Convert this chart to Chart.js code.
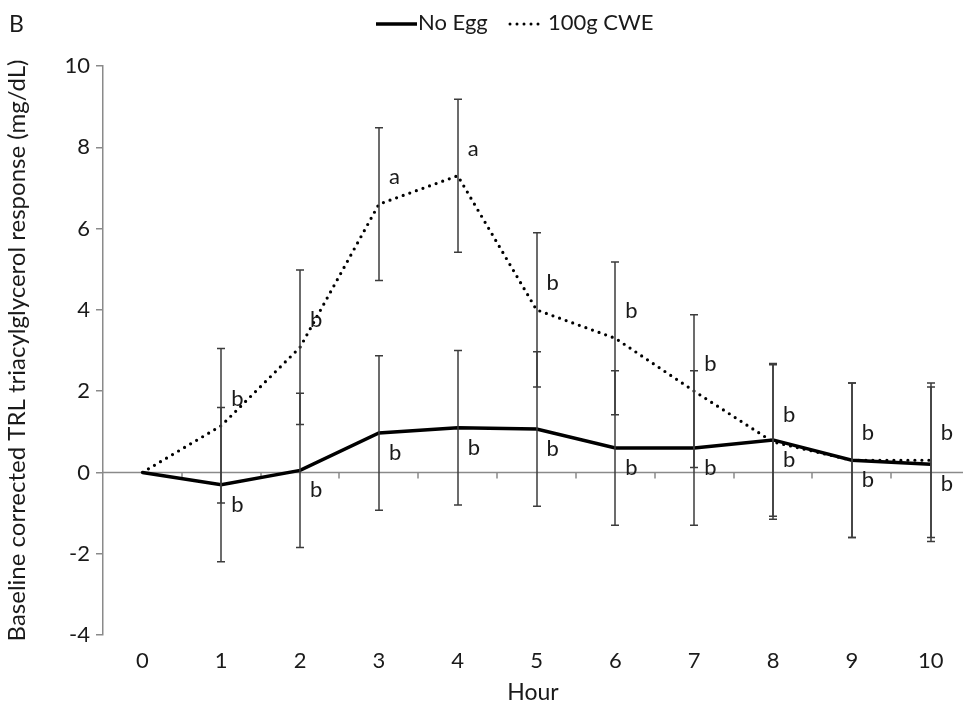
<!DOCTYPE html>
<html>
<head>
<meta charset="utf-8">
<script src="https://cdn.jsdelivr.net/npm/chart.js@4.4.1/dist/chart.umd.min.js"></script>
<style>
  html, body { margin: 0; padding: 0; background: #fff; }
</style>
</head>
<body>
<canvas id="chart" width="963" height="713"></canvas>
<script>
// data (hours after meal)
const hours = [0, 1, 2, 3, 4, 5, 6, 7, 8, 9, 10];
const noEgg = [0, -0.3, 0.05, 0.97, 1.1, 1.07, 0.6, 0.6, 0.8, 0.3, 0.2];
const noEggErr = [0, 1.9, 1.9, 1.9, 1.9, 1.9, 1.9, 1.9, 1.88, 1.9, 1.9];
const cwe = [0, 1.15, 3.08, 6.6, 7.3, 4.0, 3.3, 2.0, 0.75, 0.3, 0.3];
const cweErr = [0, 1.9, 1.9, 1.88, 1.88, 1.9, 1.88, 1.88, 1.9, 1.9, 1.9];
const noEggLetters = ['', 'b', 'b', 'b', 'b', 'b', 'b', 'b', 'b', 'b', 'b'];
const cweLetters = ['', 'b', 'b', 'a', 'a', 'b', 'b', 'b', 'b', 'b', 'b'];
const yTicks = [-4, -2, 0, 2, 4, 6, 8, 10];

const FONT = 'Lato, "Open Sans", sans-serif';
const TXT = '#1a1a1a';
const AXIS = '#8a8a8a';

// zero line with the little category ticks hanging under it
const zeroAxis = {
  id: 'zeroAxis',
  beforeDatasetsDraw(chart) {
    const { ctx, chartArea, scales: { x, y } } = chart;
    const y0 = y.getPixelForValue(0);
    ctx.save();
    ctx.strokeStyle = AXIS;
    ctx.lineWidth = 1.5;
    ctx.beginPath();
    ctx.moveTo(chartArea.left, y0);
    ctx.lineTo(chartArea.right, y0);
    hours.slice(0, -1).forEach(h => {
      const px = Math.round(x.getPixelForValue(h + 0.5));
      ctx.moveTo(px, y0);
      ctx.lineTo(px, y0 + 6);
    });
    ctx.stroke();
    ctx.restore();
  }
};

const errorBars = {
  id: 'errorBars',
  afterDatasetsDraw(chart) {
    const { ctx, scales: { x, y } } = chart;
    ctx.save();
    ctx.strokeStyle = '#3c3c3c';
    ctx.lineWidth = 1.5;
    [[noEgg, noEggErr], [cwe, cweErr]].forEach(([vals, errs]) => {
      vals.forEach((v, i) => {
        if (!errs[i]) return;
        const px = Math.round(x.getPixelForValue(hours[i]));
        const top = y.getPixelForValue(v + errs[i]);
        const bot = y.getPixelForValue(v - errs[i]);
        ctx.beginPath();
        ctx.moveTo(px, top); ctx.lineTo(px, bot);
        ctx.moveTo(px - 4, top); ctx.lineTo(px + 4, top);
        ctx.moveTo(px - 4, bot); ctx.lineTo(px + 4, bot);
        ctx.stroke();
      });
    });
    ctx.restore();
  }
};

// significance letters, plus panel letter and legend
const letters = {
  id: 'letters',
  afterDraw(chart) {
    const { ctx, scales: { x, y } } = chart;
    ctx.save();
    ctx.fillStyle = TXT;
    ctx.font = '22px ' + FONT;
    ctx.textAlign = 'left';
    ctx.textBaseline = 'middle';
    hours.forEach((h, i) => {
      const px = x.getPixelForValue(h);
      if (cweLetters[i]) ctx.fillText(cweLetters[i], px + 10, y.getPixelForValue(cwe[i]) - 27);
      if (noEggLetters[i]) ctx.fillText(noEggLetters[i], px + 10, y.getPixelForValue(noEgg[i]) + 20);
    });

    ctx.font = '23px ' + FONT;
    ctx.fillText('B', 9, 25);

    // legend
    ctx.font = '22px ' + FONT;
    ctx.strokeStyle = '#000';
    ctx.lineWidth = 3.5;
    ctx.beginPath();
    ctx.moveTo(376, 24); ctx.lineTo(417, 24);
    ctx.stroke();
    ctx.fillText('No Egg', 418, 23);
    ctx.lineCap = 'round';
    ctx.lineWidth = 3;
    ctx.setLineDash([0, 7]);
    ctx.beginPath();
    ctx.moveTo(510, 24); ctx.lineTo(545, 24);
    ctx.stroke();
    ctx.setLineDash([]);
    ctx.fillText('100g CWE', 548, 23);
    ctx.restore();
  }
};

new Chart(document.getElementById('chart'), {
  type: 'line',
  data: {
    datasets: [
      {
        label: 'No Egg',
        data: hours.map((h, i) => ({ x: h, y: noEgg[i] })),
        borderColor: '#000',
        borderWidth: 3.5,
        pointRadius: 0,
        tension: 0
      },
      {
        label: '100g CWE',
        data: hours.map((h, i) => ({ x: h, y: cwe[i] })),
        borderColor: '#000',
        borderWidth: 3.2,
        borderDash: [0, 7],
        borderCapStyle: 'round',
        pointRadius: 0,
        tension: 0
      }
    ]
  },
  options: {
    responsive: false,
    animation: false,
    layout: { padding: { top: 66, left: 0, right: 0, bottom: 0 } },
    plugins: { legend: { display: false }, tooltip: { enabled: false } },
    scales: {
      x: {
        type: 'linear',
        min: -0.5,
        max: 10.41,
        afterBuildTicks: s => { s.ticks = hours.map(h => ({ value: h })); },
        afterFit: s => { s.height = 78; },
        grid: { display: false, drawTicks: false },
        border: { display: false },
        ticks: { font: { family: FONT, size: 22 }, color: TXT, padding: 13, maxRotation: 0 },
        title: { display: true, text: 'Hour', font: { family: FONT, size: 23 }, color: TXT, padding: { top: 0, bottom: 7 } }
      },
      y: {
        min: -4,
        max: 10,
        afterBuildTicks: s => { s.ticks = yTicks.map(v => ({ value: v })); },
        afterFit: s => { s.width = 103; },
        grid: { drawOnChartArea: false, drawTicks: true, tickLength: 7, color: AXIS, lineWidth: 1.5 },
        border: { color: AXIS, width: 1.5 },
        ticks: { font: { family: FONT, size: 22 }, color: TXT, padding: 6 },
        title: {
          display: true,
          text: 'Baseline corrected TRL triacylglycerol response (mg/dL)',
          font: { family: FONT, size: 24 }, color: TXT,
          padding: { top: 3, bottom: 0 }
        }
      }
    }
  },
  plugins: [zeroAxis, errorBars, letters]
});
</script>
</body>
</html>
